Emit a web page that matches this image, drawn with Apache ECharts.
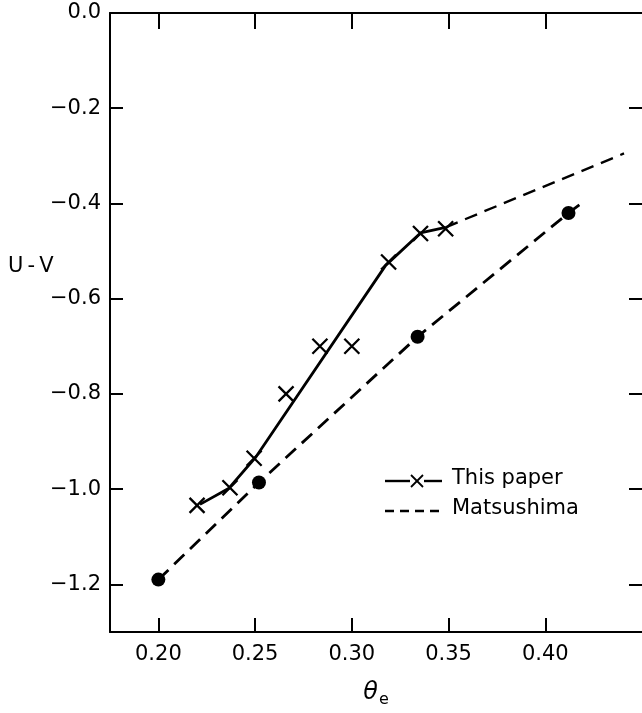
<!DOCTYPE html>
<html>
<head>
<meta charset="utf-8">
<script src="https://cdn.jsdelivr.net/npm/echarts@6/dist/echarts.min.js"></script>
<style>
  html, body { margin: 0; padding: 0; background: #fff; }
  #chart { width: 642px; height: 713px; }
</style>
</head>
<body>
<div id="chart"></div>
<script>
// Tick positions
const xTicks = [0.20, 0.25, 0.30, 0.35, 0.40];
const yTicks = [-1.2, -1.0, -0.8, -0.6, -0.4, -0.2, 0.0];

// This paper: measured points (theta_e, U-V)
const paperTheta = [0.220, 0.237, 0.2495, 0.266, 0.2835, 0.300, 0.319, 0.3355, 0.3485];
const paperUV    = [-1.034, -0.997, -0.935, -0.800, -0.700, -0.700, -0.523, -0.463, -0.453];

// This paper: drawn relation through the points
const fitTheta = [0.2215, 0.2365, 0.2505, 0.3175, 0.3355, 0.3485];
const fitUV    = [-1.032, -0.998, -0.932, -0.530, -0.462, -0.450];

// Dashed continuation beyond the last point
const extTheta = [0.3485, 0.4407];
const extUV    = [-0.450, -0.295];

// Matsushima: points and curve
const matsTheta = [0.200, 0.252, 0.334, 0.412];
const matsUV    = [-1.190, -0.986, -0.680, -0.420];
const matsCurveTheta = [0.200, 0.252, 0.334, 0.412, 0.4186];
const matsCurveUV    = [-1.190, -0.986, -0.680, -0.420, -0.400];

const zip = (a, b) => a.map((v, i) => [v, b[i]]);

const FONT = 'DejaVu Sans';
const INK = '#000';

// y tick labels use a typographic minus sign
const fmtY = v => (Math.abs(v) < 1e-9 ? '0.0' : (v < 0 ? '\u2212' : '') + Math.abs(v).toFixed(1));

const chart = echarts.init(document.getElementById('chart'), null, { renderer: 'canvas' });

const axisLineStyle = { color: INK, width: 2 };
const tickStyle = { color: INK, width: 2 };

chart.setOption({
  animation: false,
  backgroundColor: '#fff',
  grid: { left: 110, right: -2, top: 13, bottom: 71, containLabel: false },
  xAxis: [
    {
      type: 'value', min: 0.175, max: 0.45, position: 'bottom',
      axisLine: { show: true, onZero: false, lineStyle: axisLineStyle },
      axisTick: { show: true, inside: true, length: 14, customValues: xTicks, lineStyle: tickStyle },
      axisLabel: { customValues: xTicks, formatter: v => v.toFixed(2), margin: 12, fontSize: 21, color: INK, fontFamily: FONT },
      splitLine: { show: false },
      name: '{t|θ}{s|e}', nameLocation: 'middle', nameGap: 46,
      nameTextStyle: {
        rich: {
          t: { fontSize: 24, fontStyle: 'italic', fontFamily: FONT, color: INK },
          s: { fontSize: 16, fontFamily: FONT, color: INK, padding: [14, 0, 0, 1] }
        }
      }
    },
    {
      type: 'value', min: 0.175, max: 0.45, position: 'top',
      axisLine: { show: true, onZero: false, lineStyle: axisLineStyle },
      axisTick: { show: true, inside: true, length: 16, customValues: xTicks, lineStyle: tickStyle },
      axisLabel: { show: false },
      splitLine: { show: false }
    }
  ],
  yAxis: [
    {
      type: 'value', min: -1.3, max: 0, position: 'left',
      axisLine: { show: true, onZero: false, lineStyle: axisLineStyle },
      axisTick: { show: true, inside: true, length: 13, customValues: yTicks, lineStyle: tickStyle },
      axisLabel: { customValues: yTicks, formatter: fmtY, margin: 9, fontSize: 21, color: INK, fontFamily: FONT },
      splitLine: { show: false }
    },
    {
      type: 'value', min: -1.3, max: 0, position: 'right',
      axisLine: { show: false, onZero: false },
      axisTick: { show: true, inside: true, length: 13, customValues: yTicks, lineStyle: tickStyle },
      axisLabel: { show: false },
      splitLine: { show: false }
    }
  ],
  series: [
    {
      name: 'This paper', type: 'line', data: zip(fitTheta, fitUV),
      symbol: 'none', lineStyle: { color: INK, width: 2.8 }, z: 3
    },
    {
      name: 'extension', type: 'line', data: zip(extTheta, extUV),
      symbol: 'none', lineStyle: { color: INK, width: 2.4, type: [13, 8] }, z: 3
    },
    {
      name: 'Matsushima', type: 'line', data: zip(matsCurveTheta, matsCurveUV),
      symbol: 'none', lineStyle: { color: INK, width: 2.8, type: [14, 8] }, z: 3
    },
    {
      name: 'This paper points', type: 'scatter', data: zip(paperTheta, paperUV),
      symbol: 'path://M0,0L10,10M10,0L0,10', symbolSize: 15,
      itemStyle: { color: 'transparent', borderColor: INK, borderWidth: 2.3, opacity: 1 }, z: 4
    },
    {
      name: 'Matsushima points', type: 'scatter', data: zip(matsTheta, matsUV),
      symbol: 'circle', symbolSize: 14,
      itemStyle: { color: INK, opacity: 1 }, z: 4
    }
  ],
  graphic: [
    // y-axis title
    { type: 'text', left: 8, top: 256, style: { text: 'U\u2009-\u2009V', fontSize: 21, fontFamily: FONT, fill: INK } },
    // key: This paper
    { type: 'line', shape: { x1: 385, y1: 481, x2: 410, y2: 481 }, style: { stroke: INK, lineWidth: 2.4 } },
    { type: 'line', shape: { x1: 411, y1: 475, x2: 423, y2: 487 }, style: { stroke: INK, lineWidth: 1.8 } },
    { type: 'line', shape: { x1: 423, y1: 475, x2: 411, y2: 487 }, style: { stroke: INK, lineWidth: 1.8 } },
    { type: 'line', shape: { x1: 424, y1: 481, x2: 442, y2: 481 }, style: { stroke: INK, lineWidth: 2.4 } },
    { type: 'text', left: 452, top: 468, style: { text: 'This paper', fontSize: 21, fontFamily: FONT, fill: INK } },
    // key: Matsushima
    { type: 'line', shape: { x1: 385, y1: 511, x2: 442, y2: 511 }, style: { stroke: INK, lineWidth: 2.4, lineDash: [9, 6] } },
    { type: 'text', left: 452, top: 498, style: { text: 'Matsushima', fontSize: 21, fontFamily: FONT, fill: INK } }
  ]
});
</script>
</body>
</html>
